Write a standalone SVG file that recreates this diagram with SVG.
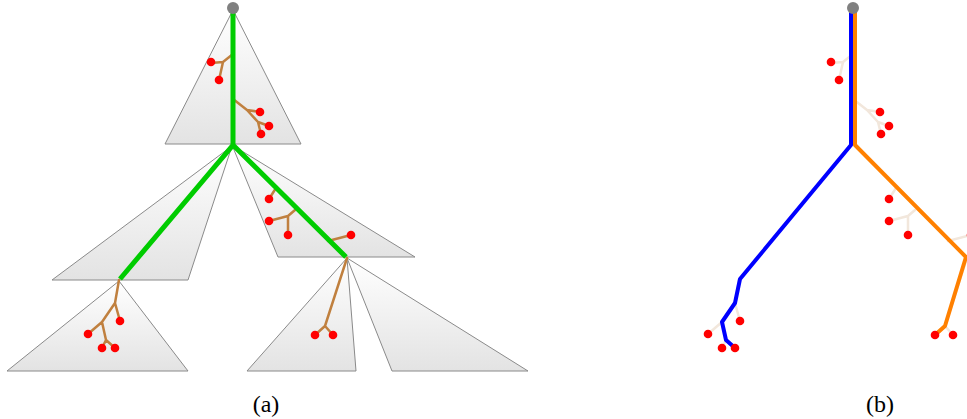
<svg xmlns="http://www.w3.org/2000/svg" width="967" height="419" viewBox="0 0 967 419">
<defs>
<linearGradient id="tg" x1="0" y1="0" x2="0" y2="1">
<stop offset="0" stop-color="#ffffff"/>
<stop offset="1" stop-color="#e3e3e3"/>
</linearGradient>
<style>
.tri{fill:url(#tg);stroke:#8a8a8a;stroke-width:1;stroke-linejoin:miter}
.br{fill:none;stroke:#c0803f;stroke-width:2.5;stroke-linejoin:round;stroke-linecap:round}
.brf{fill:none;stroke:#f2e7dc;stroke-width:2.5;stroke-linejoin:round;stroke-linecap:round}
.dot{fill:#ff0000}
.root{fill:#808080}
.green{fill:none;stroke:#00cc00;stroke-width:5;stroke-linejoin:miter}
.blue{fill:none;stroke:#0000ff;stroke-width:4;stroke-linejoin:round}
.orange{fill:none;stroke:#ff8000;stroke-width:4;stroke-linejoin:round}
.lbl{font-family:"Liberation Serif",serif;font-size:24px;fill:#000;text-anchor:middle}
</style>
</defs>
<rect width="967" height="419" fill="#ffffff"/>
<g id="tri1"><polygon class="tri" points="233,10 165,144 301,144"/></g>
<g id="tri2"><polygon class="tri" points="232,146 52,280 188,280"/></g>
<g id="tri3"><polygon class="tri" points="232,145 278,257 415,257"/></g>
<g id="tri4"><polygon class="tri" points="119,281 7,371 188,371"/></g>
<g id="tri5"><polygon class="tri" points="347,258 247,371 356,371"/></g>
<g id="tri6"><polygon class="tri" points="347,258 392,371 528,371"/></g>
<g id="connectors">
<path class="br" d="M233,54 L223,62 L211,63 M223,62 L219,80 M233,99 L247,110 L260,112 M247,110 L258,122 L269,126 M258,122 L261,134 M276,188 L269,199 M295,210 L288,216 L269,221 M288,216 L288,235 M328,241 L351,235 M119,280 L115,303 L120,321 M115,303 L102,322 L88,334 M102,322 L106,340 L102,348 M106,340 L115,348 M347,258 L325,326 L315,335 M325,326 L333,335"/>
<path class="green" d="M233,9 L233,145 L120,279 M233,145 L346,257"/>
<path class="brf" d="M853,54 L843,62 L831,63 M843,62 L839,80 M853,99 L867,110 L880,112 M867,110 L878,122 L889,126 M878,122 L881,134 M896,188 L889,199 M915,210 L908,216 L889,221 M908,216 L908,235 M948,241 L971,235 M739,280 L735,303 L740,321 M735,303 L722,322 L708,334 M722,322 L726,340 L722,348 M726,340 L735,348 M967,258 L945,326 L935,335 M945,326 L953,335"/>
<path class="blue" d="M851,9 L851,145 L740,279 L735,303 L722,322 L726,340 L735,348"/>
<path class="orange" d="M855,9 L855,145 L966,257 L945,326 L935,335"/>
</g>
<g id="dots-a">
<circle class="dot" cx="211" cy="62" r="4.3"/>
<circle class="dot" cx="219" cy="80" r="4.3"/>
<circle class="dot" cx="260" cy="112" r="4.3"/>
<circle class="dot" cx="269" cy="126" r="4.3"/>
<circle class="dot" cx="261" cy="134" r="4.3"/>
<circle class="dot" cx="269" cy="199" r="4.3"/>
<circle class="dot" cx="269" cy="221" r="4.3"/>
<circle class="dot" cx="288" cy="235" r="4.3"/>
<circle class="dot" cx="351" cy="235" r="4.3"/>
<circle class="dot" cx="120" cy="321" r="4.3"/>
<circle class="dot" cx="88" cy="334" r="4.3"/>
<circle class="dot" cx="102" cy="348" r="4.3"/>
<circle class="dot" cx="115" cy="348" r="4.3"/>
<circle class="dot" cx="315" cy="335" r="4.3"/>
<circle class="dot" cx="333" cy="335" r="4.3"/>
</g>
<g id="dots-b">
<circle class="dot" cx="831" cy="62" r="4.3"/>
<circle class="dot" cx="839" cy="80" r="4.3"/>
<circle class="dot" cx="880" cy="112" r="4.3"/>
<circle class="dot" cx="889" cy="126" r="4.3"/>
<circle class="dot" cx="881" cy="134" r="4.3"/>
<circle class="dot" cx="889" cy="199" r="4.3"/>
<circle class="dot" cx="889" cy="221" r="4.3"/>
<circle class="dot" cx="908" cy="235" r="4.3"/>
<circle class="dot" cx="971" cy="235" r="4.3"/>
<circle class="dot" cx="740" cy="321" r="4.3"/>
<circle class="dot" cx="708" cy="334" r="4.3"/>
<circle class="dot" cx="722" cy="348" r="4.3"/>
<circle class="dot" cx="735" cy="348" r="4.3"/>
<circle class="dot" cx="935" cy="335" r="4.3"/>
<circle class="dot" cx="953" cy="335" r="4.3"/>
</g>
<g id="root-a"><circle class="root" cx="233" cy="8" r="6"/></g>
<g id="root-b"><circle class="root" cx="853" cy="8" r="6"/></g>
<g id="label-a"><text class="lbl" x="266" y="412">(a)</text></g>
<g id="label-b"><text class="lbl" x="880" y="412">(b)</text></g>
</svg>
